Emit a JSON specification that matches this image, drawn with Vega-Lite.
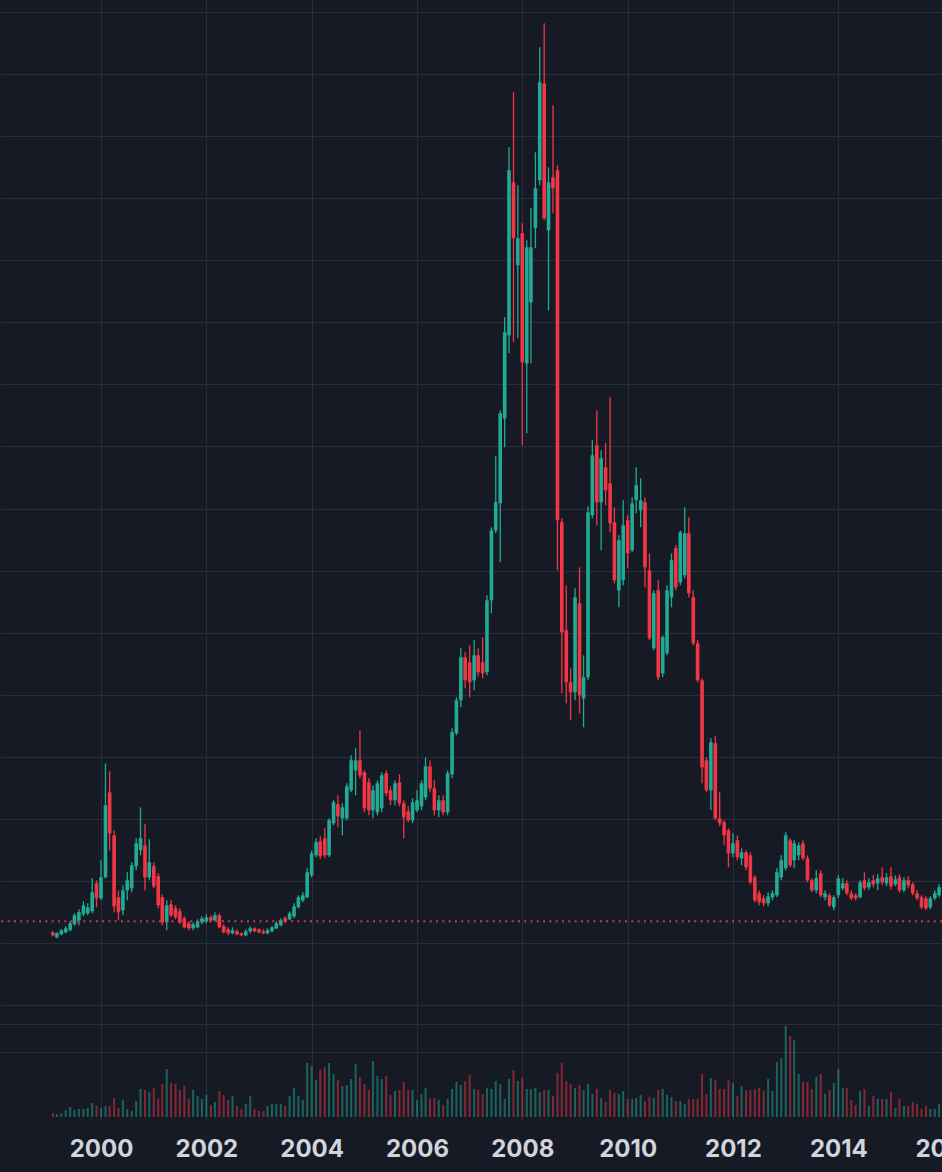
{
"$schema": "https://vega.github.io/schema/vega-lite/v6.json",
"width": 942,
"height": 1120,
"autosize": "none",
"padding": {"left": 0, "top": 0, "right": 0, "bottom": 52},
"background": "#161a25",
"config": {"view": {"stroke": null}},
"data": {"values": [
{"date":"1999-02-01","open":73,"high":74,"low":69,"close":70,"volume":4},
{"date":"1999-03-01","open":68,"high":73,"low":67,"close":72,"volume":3},
{"date":"1999-04-01","open":71,"high":76,"low":70,"close":75,"volume":4},
{"date":"1999-05-01","open":73,"high":79,"low":72,"close":77,"volume":7},
{"date":"1999-06-01","open":75,"high":84,"low":74,"close":82,"volume":10},
{"date":"1999-07-01","open":81,"high":92,"low":80,"close":90,"volume":7},
{"date":"1999-08-01","open":85,"high":96,"low":80,"close":93,"volume":8},
{"date":"1999-09-01","open":91,"high":104,"low":89,"close":100,"volume":8},
{"date":"1999-10-01","open":92,"high":102,"low":90,"close":98,"volume":9},
{"date":"1999-11-01","open":94,"high":127,"low":92,"close":113,"volume":14},
{"date":"1999-12-01","open":122,"high":125,"low":98,"close":107,"volume":11},
{"date":"2000-01-01","open":107,"high":145,"low":105,"close":128,"volume":9},
{"date":"2000-02-01","open":128,"high":242,"low":127,"close":200,"volume":11},
{"date":"2000-03-01","open":213,"high":234,"low":155,"close":172,"volume":11},
{"date":"2000-04-01","open":170,"high":175,"low":93,"close":99,"volume":19},
{"date":"2000-05-01","open":108,"high":115,"low":85,"close":93,"volume":9},
{"date":"2000-06-01","open":95,"high":120,"low":90,"close":115,"volume":17},
{"date":"2000-07-01","open":115,"high":133,"low":105,"close":125,"volume":8},
{"date":"2000-08-01","open":117,"high":143,"low":113,"close":140,"volume":6},
{"date":"2000-09-01","open":139,"high":167,"low":135,"close":162,"volume":16},
{"date":"2000-10-01","open":155,"high":198,"low":150,"close":167,"volume":28},
{"date":"2000-11-01","open":160,"high":181,"low":115,"close":128,"volume":27},
{"date":"2000-12-01","open":128,"high":166,"low":125,"close":143,"volume":25},
{"date":"2001-01-01","open":139,"high":143,"low":117,"close":119,"volume":29},
{"date":"2001-02-01","open":129,"high":132,"low":97,"close":100,"volume":18},
{"date":"2001-03-01","open":108,"high":111,"low":80,"close":83,"volume":33},
{"date":"2001-04-01","open":83,"high":105,"low":75,"close":100,"volume":48},
{"date":"2001-05-01","open":101,"high":105,"low":88,"close":90,"volume":34},
{"date":"2001-06-01","open":97,"high":100,"low":86,"close":88,"volume":33},
{"date":"2001-07-01","open":94,"high":97,"low":81,"close":83,"volume":27},
{"date":"2001-08-01","open":87,"high":89,"low":77,"close":78,"volume":31},
{"date":"2001-09-01","open":82,"high":84,"low":75,"close":77,"volume":18},
{"date":"2001-10-01","open":77,"high":83,"low":75,"close":81,"volume":27},
{"date":"2001-11-01","open":78,"high":86,"low":77,"close":84,"volume":21},
{"date":"2001-12-01","open":83,"high":89,"low":81,"close":87,"volume":18},
{"date":"2002-01-01","open":84,"high":91,"low":82,"close":88,"volume":22},
{"date":"2002-02-01","open":88,"high":90,"low":83,"close":85,"volume":12},
{"date":"2002-03-01","open":85,"high":93,"low":84,"close":90,"volume":15},
{"date":"2002-04-01","open":90,"high":92,"low":77,"close":78,"volume":26},
{"date":"2002-05-01","open":79,"high":81,"low":72,"close":73,"volume":22},
{"date":"2002-06-01","open":76,"high":78,"low":70,"close":72,"volume":17},
{"date":"2002-07-01","open":72,"high":78,"low":71,"close":75,"volume":21},
{"date":"2002-08-01","open":74,"high":76,"low":70,"close":71,"volume":11},
{"date":"2002-09-01","open":72,"high":73,"low":69,"close":70,"volume":8},
{"date":"2002-10-01","open":70,"high":76,"low":69,"close":74,"volume":13},
{"date":"2002-11-01","open":74,"high":79,"low":72,"close":77,"volume":21},
{"date":"2002-12-01","open":77,"high":78,"low":73,"close":74,"volume":8},
{"date":"2003-01-01","open":76,"high":77,"low":72,"close":73,"volume":6},
{"date":"2003-02-01","open":74,"high":76,"low":71,"close":72,"volume":6},
{"date":"2003-03-01","open":72,"high":77,"low":71,"close":75,"volume":11},
{"date":"2003-04-01","open":74,"high":79,"low":73,"close":78,"volume":13},
{"date":"2003-05-01","open":77,"high":84,"low":76,"close":82,"volume":13},
{"date":"2003-06-01","open":80,"high":87,"low":79,"close":85,"volume":13},
{"date":"2003-07-01","open":87,"high":89,"low":82,"close":84,"volume":11},
{"date":"2003-08-01","open":86,"high":94,"low":85,"close":92,"volume":21},
{"date":"2003-09-01","open":89,"high":102,"low":87,"close":99,"volume":29},
{"date":"2003-10-01","open":98,"high":110,"low":97,"close":108,"volume":21},
{"date":"2003-11-01","open":105,"high":113,"low":103,"close":110,"volume":17},
{"date":"2003-12-01","open":108,"high":137,"low":107,"close":133,"volume":54},
{"date":"2004-01-01","open":130,"high":155,"low":128,"close":152,"volume":51},
{"date":"2004-02-01","open":150,"high":167,"low":148,"close":163,"volume":37},
{"date":"2004-03-01","open":164,"high":169,"low":146,"close":149,"volume":47},
{"date":"2004-04-01","open":167,"high":177,"low":147,"close":150,"volume":50},
{"date":"2004-05-01","open":150,"high":187,"low":148,"close":185,"volume":54},
{"date":"2004-06-01","open":182,"high":205,"low":180,"close":203,"volume":43},
{"date":"2004-07-01","open":201,"high":210,"low":178,"close":189,"volume":37},
{"date":"2004-08-01","open":187,"high":202,"low":170,"close":198,"volume":31},
{"date":"2004-09-01","open":187,"high":222,"low":185,"close":219,"volume":32},
{"date":"2004-10-01","open":215,"high":250,"low":213,"close":245,"volume":38},
{"date":"2004-11-01","open":235,"high":257,"low":210,"close":245,"volume":53},
{"date":"2004-12-01","open":245,"high":275,"low":227,"close":230,"volume":40},
{"date":"2005-01-01","open":233,"high":235,"low":193,"close":197,"volume":33},
{"date":"2005-02-01","open":223,"high":227,"low":190,"close":195,"volume":27},
{"date":"2005-03-01","open":195,"high":220,"low":187,"close":215,"volume":56},
{"date":"2005-04-01","open":193,"high":225,"low":190,"close":222,"volume":41},
{"date":"2005-05-01","open":197,"high":233,"low":193,"close":230,"volume":38},
{"date":"2005-06-01","open":232,"high":235,"low":209,"close":212,"volume":41},
{"date":"2005-07-01","open":215,"high":219,"low":200,"close":205,"volume":22},
{"date":"2005-08-01","open":205,"high":225,"low":200,"close":222,"volume":26},
{"date":"2005-09-01","open":223,"high":231,"low":199,"close":202,"volume":27},
{"date":"2005-10-01","open":202,"high":205,"low":167,"close":188,"volume":35},
{"date":"2005-11-01","open":194,"high":199,"low":183,"close":185,"volume":27},
{"date":"2005-12-01","open":185,"high":207,"low":182,"close":203,"volume":27},
{"date":"2006-01-01","open":195,"high":215,"low":193,"close":205,"volume":17},
{"date":"2006-02-01","open":199,"high":225,"low":195,"close":222,"volume":23},
{"date":"2006-03-01","open":208,"high":248,"low":205,"close":239,"volume":29},
{"date":"2006-04-01","open":239,"high":245,"low":213,"close":217,"volume":18},
{"date":"2006-05-01","open":217,"high":225,"low":190,"close":195,"volume":19},
{"date":"2006-06-01","open":195,"high":210,"low":188,"close":205,"volume":17},
{"date":"2006-07-01","open":205,"high":210,"low":190,"close":193,"volume":12},
{"date":"2006-08-01","open":193,"high":235,"low":190,"close":232,"volume":18},
{"date":"2006-09-01","open":231,"high":277,"low":227,"close":273,"volume":28},
{"date":"2006-10-01","open":272,"high":308,"low":270,"close":305,"volume":35},
{"date":"2006-11-01","open":305,"high":357,"low":298,"close":348,"volume":32},
{"date":"2006-12-01","open":348,"high":353,"low":317,"close":325,"volume":36},
{"date":"2007-01-01","open":343,"high":360,"low":308,"close":323,"volume":42},
{"date":"2007-02-01","open":325,"high":365,"low":315,"close":350,"volume":28},
{"date":"2007-03-01","open":350,"high":357,"low":329,"close":333,"volume":27},
{"date":"2007-04-01","open":343,"high":368,"low":327,"close":332,"volume":23},
{"date":"2007-05-01","open":333,"high":410,"low":330,"close":405,"volume":29},
{"date":"2007-06-01","open":405,"high":478,"low":392,"close":475,"volume":28},
{"date":"2007-07-01","open":475,"high":549,"low":472,"close":503,"volume":36},
{"date":"2007-08-01","open":502,"high":595,"low":443,"close":592,"volume":33},
{"date":"2007-09-01","open":587,"high":688,"low":558,"close":673,"volume":18},
{"date":"2007-10-01","open":670,"high":858,"low":652,"close":835,"volume":38},
{"date":"2007-11-01","open":823,"high":913,"low":663,"close":767,"volume":47},
{"date":"2007-12-01","open":740,"high":820,"low":667,"close":767,"volume":36},
{"date":"2008-01-01","open":772,"high":782,"low":560,"close":643,"volume":39},
{"date":"2008-02-01","open":642,"high":765,"low":572,"close":758,"volume":28},
{"date":"2008-03-01","open":703,"high":797,"low":642,"close":758,"volume":28},
{"date":"2008-04-01","open":777,"high":853,"low":757,"close":817,"volume":29},
{"date":"2008-05-01","open":825,"high":958,"low":820,"close":923,"volume":25},
{"date":"2008-06-01","open":922,"high":982,"low":785,"close":787,"volume":27},
{"date":"2008-07-01","open":775,"high":838,"low":695,"close":823,"volume":27},
{"date":"2008-08-01","open":828,"high":900,"low":792,"close":817,"volume":21},
{"date":"2008-09-01","open":835,"high":840,"low":435,"close":485,"volume":44},
{"date":"2008-10-01","open":483,"high":487,"low":312,"close":373,"volume":54},
{"date":"2008-11-01","open":375,"high":420,"low":302,"close":323,"volume":36},
{"date":"2008-12-01","open":323,"high":337,"low":285,"close":313,"volume":33},
{"date":"2009-01-01","open":313,"high":417,"low":305,"close":408,"volume":29},
{"date":"2009-02-01","open":402,"high":438,"low":292,"close":310,"volume":32},
{"date":"2009-03-01","open":307,"high":350,"low":278,"close":328,"volume":27},
{"date":"2009-04-01","open":328,"high":499,"low":325,"close":493,"volume":33},
{"date":"2009-05-01","open":490,"high":565,"low":487,"close":550,"volume":23},
{"date":"2009-06-01","open":560,"high":595,"low":480,"close":503,"volume":28},
{"date":"2009-07-01","open":503,"high":555,"low":455,"close":547,"volume":19},
{"date":"2009-08-01","open":538,"high":562,"low":500,"close":515,"volume":15},
{"date":"2009-09-01","open":522,"high":608,"low":473,"close":482,"volume":27},
{"date":"2009-10-01","open":483,"high":498,"low":422,"close":425,"volume":24},
{"date":"2009-11-01","open":415,"high":470,"low":398,"close":465,"volume":23},
{"date":"2009-12-01","open":425,"high":505,"low":420,"close":480,"volume":26},
{"date":"2010-01-01","open":485,"high":490,"low":437,"close":452,"volume":18},
{"date":"2010-02-01","open":455,"high":508,"low":453,"close":502,"volume":18},
{"date":"2010-03-01","open":505,"high":538,"low":492,"close":520,"volume":19},
{"date":"2010-04-01","open":495,"high":527,"low":478,"close":505,"volume":22},
{"date":"2010-05-01","open":503,"high":508,"low":418,"close":438,"volume":16},
{"date":"2010-06-01","open":435,"high":452,"low":365,"close":367,"volume":20},
{"date":"2010-07-01","open":357,"high":415,"low":355,"close":412,"volume":19},
{"date":"2010-08-01","open":415,"high":425,"low":325,"close":328,"volume":27},
{"date":"2010-09-01","open":332,"high":370,"low":328,"close":368,"volume":28},
{"date":"2010-10-01","open":352,"high":420,"low":350,"close":415,"volume":22},
{"date":"2010-11-01","open":408,"high":452,"low":398,"close":445,"volume":20},
{"date":"2010-12-01","open":457,"high":460,"low":415,"close":418,"volume":16},
{"date":"2011-01-01","open":423,"high":475,"low":420,"close":473,"volume":16},
{"date":"2011-02-01","open":430,"high":498,"low":427,"close":472,"volume":13},
{"date":"2011-03-01","open":472,"high":488,"low":408,"close":412,"volume":18},
{"date":"2011-04-01","open":408,"high":415,"low":360,"close":362,"volume":18},
{"date":"2011-05-01","open":362,"high":365,"low":323,"close":325,"volume":18},
{"date":"2011-06-01","open":325,"high":327,"low":222,"close":238,"volume":43},
{"date":"2011-07-01","open":245,"high":248,"low":213,"close":215,"volume":23},
{"date":"2011-08-01","open":215,"high":267,"low":195,"close":263,"volume":39},
{"date":"2011-09-01","open":262,"high":269,"low":185,"close":187,"volume":37},
{"date":"2011-10-01","open":187,"high":213,"low":179,"close":182,"volume":28},
{"date":"2011-11-01","open":183,"high":185,"low":160,"close":170,"volume":28},
{"date":"2011-12-01","open":175,"high":177,"low":138,"close":152,"volume":37},
{"date":"2012-01-01","open":152,"high":172,"low":148,"close":162,"volume":34},
{"date":"2012-02-01","open":165,"high":170,"low":145,"close":148,"volume":21},
{"date":"2012-03-01","open":147,"high":157,"low":140,"close":153,"volume":31},
{"date":"2012-04-01","open":153,"high":155,"low":135,"close":138,"volume":27},
{"date":"2012-05-01","open":150,"high":153,"low":121,"close":123,"volume":27},
{"date":"2012-06-01","open":128,"high":130,"low":103,"close":105,"volume":28},
{"date":"2012-07-01","open":112,"high":115,"low":100,"close":103,"volume":29},
{"date":"2012-08-01","open":107,"high":110,"low":99,"close":102,"volume":26},
{"date":"2012-09-01","open":102,"high":113,"low":99,"close":109,"volume":38},
{"date":"2012-10-01","open":108,"high":115,"low":105,"close":112,"volume":26},
{"date":"2012-11-01","open":110,"high":137,"low":108,"close":133,"volume":55},
{"date":"2012-12-01","open":128,"high":150,"low":125,"close":145,"volume":59},
{"date":"2013-01-01","open":137,"high":173,"low":135,"close":170,"volume":91},
{"date":"2013-02-01","open":165,"high":167,"low":138,"close":140,"volume":81},
{"date":"2013-03-01","open":145,"high":165,"low":137,"close":162,"volume":77},
{"date":"2013-04-01","open":150,"high":163,"low":145,"close":160,"volume":43},
{"date":"2013-05-01","open":162,"high":165,"low":145,"close":147,"volume":35},
{"date":"2013-06-01","open":147,"high":150,"low":123,"close":125,"volume":35},
{"date":"2013-07-01","open":125,"high":127,"low":113,"close":115,"volume":28},
{"date":"2013-08-01","open":115,"high":135,"low":112,"close":127,"volume":40},
{"date":"2013-09-01","open":132,"high":135,"low":108,"close":110,"volume":43},
{"date":"2013-10-01","open":108,"high":115,"low":105,"close":112,"volume":23},
{"date":"2013-11-01","open":110,"high":112,"low":98,"close":100,"volume":27},
{"date":"2013-12-01","open":98,"high":110,"low":95,"close":108,"volume":34},
{"date":"2014-01-01","open":110,"high":130,"low":107,"close":127,"volume":48},
{"date":"2014-02-01","open":117,"high":127,"low":115,"close":122,"volume":29},
{"date":"2014-03-01","open":122,"high":125,"low":110,"close":112,"volume":29},
{"date":"2014-04-01","open":112,"high":115,"low":105,"close":107,"volume":17},
{"date":"2014-05-01","open":110,"high":112,"low":105,"close":107,"volume":12},
{"date":"2014-06-01","open":108,"high":125,"low":107,"close":123,"volume":26},
{"date":"2014-07-01","open":125,"high":133,"low":115,"close":117,"volume":28},
{"date":"2014-08-01","open":118,"high":127,"low":115,"close":123,"volume":11},
{"date":"2014-09-01","open":125,"high":130,"low":118,"close":121,"volume":21},
{"date":"2014-10-01","open":122,"high":131,"low":115,"close":127,"volume":18},
{"date":"2014-11-01","open":128,"high":138,"low":120,"close":123,"volume":18},
{"date":"2014-12-01","open":122,"high":132,"low":119,"close":128,"volume":18},
{"date":"2015-01-01","open":129,"high":138,"low":116,"close":119,"volume":25},
{"date":"2015-02-01","open":121,"high":130,"low":119,"close":126,"volume":9},
{"date":"2015-03-01","open":128,"high":131,"low":113,"close":115,"volume":18},
{"date":"2015-04-01","open":115,"high":128,"low":113,"close":125,"volume":11},
{"date":"2015-05-01","open":125,"high":129,"low":117,"close":120,"volume":11},
{"date":"2015-06-01","open":121,"high":123,"low":110,"close":112,"volume":15},
{"date":"2015-07-01","open":112,"high":115,"low":105,"close":107,"volume":13},
{"date":"2015-08-01","open":108,"high":110,"low":96,"close":98,"volume":8},
{"date":"2015-09-01","open":107,"high":109,"low":95,"close":97,"volume":11},
{"date":"2015-10-01","open":98,"high":109,"low":96,"close":107,"volume":8},
{"date":"2015-11-01","open":107,"high":115,"low":105,"close":112,"volume":8},
{"date":"2015-12-01","open":110,"high":121,"low":108,"close":118,"volume":13}
]},
"layer": [
  {
    "layer": [
      {
        "mark": {"type": "rule", "strokeWidth": 1.3},
        "encoding": {
          "x": {
            "field": "date", "type": "temporal",
            "scale": {"type": "utc", "domain": [{"year": 1998, "month": 1, "date": 30, "hours": 12, "utc": true}, {"year": 2016, "month": 1, "date": 4, "utc": true}], "range": [0, 944], "padding": 0, "nice": false},
            "axis": {
              "title": null, "format": "%Y",
              "values": [{"year": 2000, "utc": true}, {"year": 2002, "utc": true}, {"year": 2004, "utc": true}, {"year": 2006, "utc": true}, {"year": 2008, "utc": true}, {"year": 2010, "utc": true}, {"year": 2012, "utc": true}, {"year": 2014, "utc": true}, {"year": 2016, "utc": true}],
              "grid": true, "gridColor": "#2a2e39", "gridWidth": 1,
              "domain": false, "ticks": false, "tickSize": 0,
              "labelPadding": 36, "labelBaseline": "alphabetic",
              "labelFont": "Inter", "labelFontSize": 24, "labelFontWeight": "bold", "labelColor": "#d1d4dc",
              "labelFlush": false, "labelOverlap": false, "labelBound": false
            }
          },
          "y": {"field": "low", "type": "quantitative",
                "scale": {"domain": [-114.7, 1005.3], "nice": false, "zero": false},
                "axis": {"title": null, "labels": false, "ticks": false, "domain": false, "grid": true, "gridColor": "#2a2e39", "gridWidth": 1,
                         "values": [0, 62.1, 124.2, 186.3, 248.4, 310.5, 372.6, 434.7, 496.8, 558.9, 621, 683.1, 745.2, 807.3, 869.4, 931.5, 993.6]}},
          "y2": {"field": "high"},
          "color": {"condition": {"test": "datum.close < datum.open", "value": "#f23645"}, "value": "#22ab94"}
        }
      },
      {
        "mark": {"type": "bar", "size": 3.6},
        "encoding": {
          "x": {"field": "date", "type": "temporal"},
          "y": {"field": "open", "type": "quantitative"},
          "y2": {"field": "close"},
          "color": {"condition": {"test": "datum.close < datum.open", "value": "#f23645"}, "value": "#22ab94"}
        }
      },
      {
        "data": {"values": [{"level": 84}]},
        "mark": {"type": "rule", "strokeDash": [2, 4.3], "strokeWidth": 2, "color": "#f23645", "opacity": 0.9},
        "encoding": {"y": {"field": "level", "type": "quantitative"}}
      }
    ]
  },
  {
    "mark": {"type": "bar", "size": 2, "fillOpacity": 0.5},
    "encoding": {
      "x": {"field": "date", "type": "temporal"},
      "y": {"field": "volume", "type": "quantitative",
            "scale": {"domain": [-3, 1117], "nice": false, "zero": false},
            "axis": {"title": null, "labels": false, "ticks": false, "domain": false, "grid": true, "gridColor": "#2a2e39", "gridWidth": 1, "values": [65, 93]}},
      "color": {"condition": {"test": "datum.close < datum.open", "value": "#f23645"}, "value": "#22ab94"}
    }
  }
],
"resolve": {"scale": {"y": "independent"}, "axis": {"y": "independent"}}
}
